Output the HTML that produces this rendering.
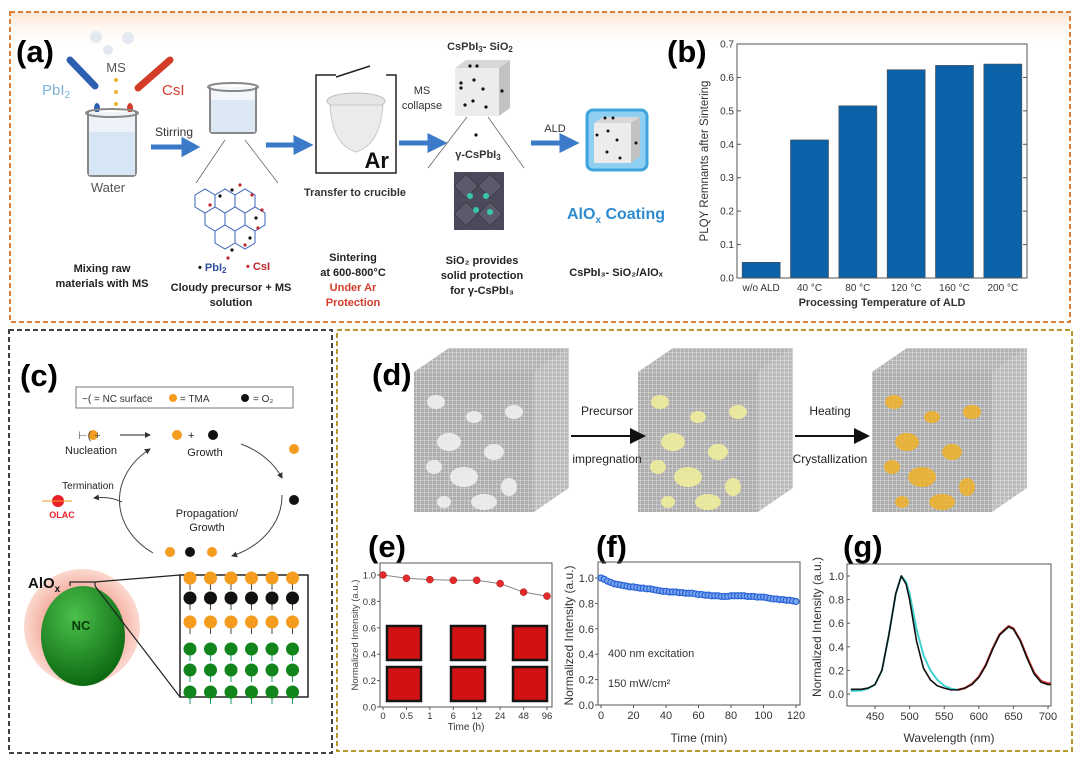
<!DOCTYPE html>
<html><head><meta charset="utf-8">
<style>
html,body{margin:0;padding:0;background:#fff;}
svg{display:block;font-family:"Liberation Sans",sans-serif;}
.b{font-weight:bold}
</style></head>
<body>
<svg id="fig" width="1080" height="762" viewBox="0 0 1080 762" xmlns="http://www.w3.org/2000/svg">
<defs>
  <linearGradient id="topglow" x1="0" y1="0" x2="0" y2="1">
    <stop offset="0" stop-color="#fbe6d4"/><stop offset="1" stop-color="#fff" stop-opacity="0"/>
  </linearGradient>
  <pattern id="grid" width="4" height="4" patternUnits="userSpaceOnUse">
    <rect width="4" height="4" fill="#a4a4a4"/>
    <path d="M0 0H4M0 0V4" stroke="#dcdcdc" stroke-width="1"/>
  </pattern>
  <radialGradient id="green" cx="0.4" cy="0.3" r="0.7">
    <stop offset="0" stop-color="#4cc04c"/><stop offset="1" stop-color="#0d6a12"/>
  </radialGradient>
  <radialGradient id="halo" cx="0.5" cy="0.5" r="0.5">
    <stop offset="0.6" stop-color="#f4a89a"/><stop offset="1" stop-color="#fbd9d0"/>
  </radialGradient>
  <marker id="ah" markerWidth="8" markerHeight="8" refX="6" refY="4" orient="auto"><path d="M0 0L8 4L0 8z" fill="#111"/></marker>
  <marker id="ahs" markerWidth="6" markerHeight="6" refX="5" refY="3" orient="auto"><path d="M0 0L6 3L0 6z" fill="#333"/></marker>
</defs>

<!-- panel frames -->
<rect x="10" y="12" width="1060" height="40" fill="url(#topglow)"/>
<rect x="10" y="12" width="1060" height="310" fill="none" stroke="#d9813a" stroke-width="2" stroke-dasharray="5,3"/>
<rect x="9" y="330" width="323" height="423" fill="none" stroke="#444" stroke-width="2" stroke-dasharray="5,3"/>
<rect x="337" y="330" width="735" height="421" fill="none" stroke="#b79a2e" stroke-width="2" stroke-dasharray="5,3"/>

<!-- ===== Panel (a) ===== -->
<g>
<text x="16" y="62" font-size="31" class="b">(a)</text>
<g fill="#e4e8f0"><circle cx="96" cy="37" r="6"/><circle cx="128" cy="38" r="6"/><circle cx="108" cy="50" r="5"/></g>
<text x="116" y="72" font-size="13" fill="#555" text-anchor="middle">MS</text>
<text x="42" y="95" font-size="15" fill="#7fb2d8">PbI<tspan font-size="10" dy="3">2</tspan></text>
<text x="162" y="95" font-size="15" fill="#d43c2a">CsI</text>
<path d="M70 60 L95 86" stroke="#2d5fb0" stroke-width="7" stroke-linecap="round"/>
<path d="M170 60 L138 88" stroke="#d43c2a" stroke-width="7" stroke-linecap="round"/>
<g fill="#f0b030"><circle cx="116" cy="80" r="2"/><circle cx="116" cy="92" r="2"/><circle cx="116" cy="104" r="2"/><circle cx="116" cy="118" r="2"/></g>
<g fill="#2d5fb0"><ellipse cx="97" cy="108" rx="3" ry="5"/><ellipse cx="97" cy="123" rx="3" ry="5"/></g>
<g fill="#d43c2a"><ellipse cx="130" cy="108" rx="3" ry="5"/><ellipse cx="130" cy="123" rx="3" ry="5"/></g>
<path d="M88 112 L88 172 Q88 176 92 176 L132 176 Q136 176 136 172 L136 112" fill="#eef3fa" stroke="#888" stroke-width="2"/>
<rect x="89" y="132" width="46" height="43" fill="#d6e6f5"/>
<ellipse cx="112" cy="113" rx="26" ry="4" fill="none" stroke="#888" stroke-width="2"/>
<text x="108" y="192" font-size="13" fill="#555" text-anchor="middle">Water</text>
<text x="174" y="136" font-size="12" fill="#333" text-anchor="middle">Stirring</text>
<path d="M151 147 H184 L184 141 L195 147 L184 153 L184 147" fill="#3b7ac8" stroke="#3b7ac8" stroke-width="5"/>
<path d="M210 87 L210 130 Q210 133 213 133 L253 133 Q256 133 256 130 L256 87" fill="#f3f6fa" stroke="#888" stroke-width="2"/>
<rect x="211" y="100" width="44" height="32" fill="#dce8f4"/>
<ellipse cx="233" cy="87" rx="25" ry="4" fill="none" stroke="#888" stroke-width="2"/>
<path d="M225 140 L196 183 M245 140 L278 183" stroke="#666" stroke-width="0.8"/>
<g stroke="#3a63b8" stroke-width="1" fill="none">
 <path d="M195 195 l10 -6 l10 6 l0 12 l-10 6 l-10 -6z M215 195 l10 -6 l10 6 l0 12 l-10 6 l-10 -6z M235 195 l10 -6 l10 6 l0 12 l-10 6 l-10 -6z M205 213 l10 -6 l10 6 l0 12 l-10 6 l-10 -6z M225 213 l10 -6 l10 6 l0 12 l-10 6 l-10 -6z M245 213 l10 -6 l10 6 l0 12 l-10 6 l-10 -6z M215 231 l10 -6 l10 6 l0 12 l-10 6 l-10 -6z M235 231 l10 -6 l10 6 l0 12 l-10 6 l-10 -6z"/>
</g>
<g fill="#c0272d"><circle cx="240" cy="185" r="1.6"/><circle cx="252" cy="195" r="1.6"/><circle cx="262" cy="210" r="1.6"/><circle cx="258" cy="228" r="1.6"/><circle cx="245" cy="245" r="1.6"/><circle cx="228" cy="258" r="1.6"/><circle cx="210" cy="205" r="1.6"/></g>
<g fill="#111"><circle cx="232" cy="190" r="1.6"/><circle cx="256" cy="218" r="1.6"/><circle cx="250" cy="238" r="1.6"/><circle cx="232" cy="250" r="1.6"/><circle cx="220" cy="196" r="1.6"/></g>
<path d="M266 145 H296 L296 139 L308 145 L296 151 L296 145" fill="#3b7ac8" stroke="#3b7ac8" stroke-width="5"/>
<path d="M336 75 L316 75 L316 173 L396 173 L396 75 L386 75" fill="none" stroke="#222" stroke-width="1.5"/>
<path d="M336 77 L370 66" stroke="#222" stroke-width="1.5"/>
<ellipse cx="356" cy="101" rx="29" ry="8" fill="#e6e6e6" stroke="#bbb"/>
<path d="M330 105 Q332 145 356 152 Q380 145 383 105z" fill="#ebebeb" stroke="#c8c8c8"/>
<text x="389" y="168" font-size="22" class="b" text-anchor="end" fill="#111">Ar</text>
<text x="355" y="196" font-size="11" class="b" text-anchor="middle" fill="#333">Transfer to crucible</text>
<text x="422" y="94" font-size="11" text-anchor="middle" fill="#333"><tspan x="422">MS</tspan><tspan x="422" dy="15">collapse</tspan></text>
<path d="M399 143 H430 L430 137 L442 143 L430 149 L430 143" fill="#3b7ac8" stroke="#3b7ac8" stroke-width="5"/>
<text x="480" y="50" font-size="11" class="b" text-anchor="middle" fill="#333">CsPbI<tspan font-size="8" dy="2">3</tspan><tspan dy="-2">- SiO</tspan><tspan font-size="8" dy="2">2</tspan></text>
<g>
<path d="M455 68 L466 60 L510 60 L499 68z" fill="#d8d8d8"/><path d="M499 68 L510 60 L510 108 L499 116z" fill="#c2c2c2"/><rect x="455" y="68" width="44" height="48" fill="#ececec"/>
<g fill="#111"><circle cx="470" cy="66" r="1.6"/><circle cx="477" cy="66" r="1.6"/><circle cx="474" cy="80" r="1.6"/><circle cx="461" cy="83" r="1.6"/><circle cx="461" cy="88" r="1.6"/><circle cx="483" cy="89" r="1.6"/><circle cx="502" cy="91" r="1.6"/><circle cx="473" cy="101" r="1.6"/><circle cx="486" cy="107" r="1.6"/><circle cx="465" cy="105" r="1.6"/><circle cx="476" cy="135" r="1.6"/></g>
</g>
<path d="M467 117 L428 168 M488 117 L524 168" stroke="#666" stroke-width="0.8"/>
<text x="478" y="158" font-size="11" class="b" text-anchor="middle" fill="#333">γ-CsPbI<tspan font-size="8" dy="2">3</tspan></text>
<g>
<rect x="454" y="172" width="50" height="58" fill="#4a4a5a"/>
<g fill="#5a5a6c" stroke="#333" stroke-width="0.6"><path d="M454 186 l12 -12 l12 12 l-12 12z M478 186 l12 -12 l12 12 l-12 12z M454 214 l12 -12 l12 12 l-12 12z M478 214 l12 -12 l12 12 l-12 12z"/></g>
<g fill="#38c6a8"><circle cx="470" cy="196" r="3"/><circle cx="486" cy="196" r="3"/><circle cx="476" cy="210" r="3"/><circle cx="490" cy="212" r="3"/></g>
</g>
<text x="555" y="132" font-size="11" fill="#333" text-anchor="middle">ALD</text>
<path d="M531 143 H562 L562 137 L574 143 L562 149 L562 143" fill="#3b7ac8" stroke="#3b7ac8" stroke-width="5"/>
<g>
<rect x="587" y="110" width="60" height="60" rx="6" fill="#8fd0f2" stroke="#3fa4de" stroke-width="3"/>
<path d="M594 123 L603 117 L640 117 L631 123z" fill="#d8d8d8"/><path d="M631 123 L640 117 L640 156 L631 163z" fill="#c2c2c2"/><rect x="594" y="123" width="37" height="40" fill="#ececec"/>
<g fill="#111"><circle cx="605" cy="118" r="1.5"/><circle cx="613" cy="118" r="1.5"/><circle cx="608" cy="131" r="1.5"/><circle cx="597" cy="135" r="1.5"/><circle cx="617" cy="140" r="1.5"/><circle cx="636" cy="143" r="1.5"/><circle cx="607" cy="152" r="1.5"/><circle cx="620" cy="158" r="1.5"/></g>
</g>
<text x="616" y="219" font-size="16" class="b" text-anchor="middle" fill="#2f8bd0">AlO<tspan font-size="10" dy="4">x</tspan><tspan dy="-4"> Coating</tspan></text>
<text x="102" y="272" font-size="11" class="b" text-anchor="middle" fill="#222"><tspan x="102">Mixing raw</tspan><tspan x="102" dy="15">materials with MS</tspan></text>
<text x="198" y="271" font-size="11" class="b" fill="#111">• <tspan fill="#2d4fa0">PbI</tspan><tspan font-size="8" dy="2" fill="#2d4fa0">2</tspan></text>
<text x="246" y="270" font-size="11" class="b" fill="#c0272d">•  CsI</text>
<text x="231" y="291" font-size="11" class="b" text-anchor="middle" fill="#222"><tspan x="231">Cloudy precursor + MS</tspan><tspan x="231" dy="15">solution</tspan></text>
<text x="353" y="261" font-size="11" class="b" text-anchor="middle" fill="#222"><tspan x="353">Sintering</tspan><tspan x="353" dy="15">at 600-800°C</tspan><tspan x="353" dy="15" fill="#d43c2a">Under Ar</tspan><tspan x="353" dy="15" fill="#d43c2a">Protection</tspan></text>
<text x="482" y="264" font-size="11" class="b" text-anchor="middle" fill="#222"><tspan x="482">SiO₂ provides</tspan><tspan x="482" dy="15">solid protection</tspan><tspan x="482" dy="15">for γ-CsPbI₃</tspan></text>
<text x="616" y="276" font-size="11" class="b" text-anchor="middle" fill="#222">CsPbI₃- SiO₂/AlOₓ</text>
</g>

<!-- ===== Panel (b) ===== -->
<g id="chartB">
<text x="667" y="62" font-size="31" class="b">(b)</text>
</g>

<!-- ===== Panel (c) ===== -->
<g>
<text x="20" y="386" font-size="31" class="b">(c)</text>
<rect x="76" y="387" width="217" height="21" fill="#fff" stroke="#777"/>
<text x="82" y="402" font-size="10" fill="#333">−( = NC surface</text>
<circle cx="173" cy="398" r="4" fill="#f39c1e"/><text x="180" y="402" font-size="10" fill="#333">= TMA</text>
<circle cx="245" cy="398" r="4" fill="#111"/><text x="253" y="402" font-size="10" fill="#333">= O₂</text>
<g>
<circle cx="93" cy="435" r="5" fill="#f39c1e"/><circle cx="177" cy="435" r="5" fill="#f39c1e"/><circle cx="213" cy="435" r="5" fill="#111"/>
<text x="78" y="439" font-size="11" fill="#555">⊢(  +</text>
<line x1="120" y1="435" x2="150" y2="435" stroke="#222" marker-end="url(#ahs)"/>
<text x="188" y="439" font-size="11" fill="#222">+</text>
<text x="91" y="454" font-size="11" text-anchor="middle" fill="#222">Nucleation</text>
<text x="205" y="456" font-size="11" text-anchor="middle" fill="#222">Growth</text>
<path d="M241 444 A80 65 0 0 1 282 478" fill="none" stroke="#444" marker-end="url(#ahs)"/>
<path d="M282 495 A80 65 0 0 1 232 556" fill="none" stroke="#444" marker-end="url(#ahs)"/>
<path d="M153 553 A80 65 0 0 1 150 449" fill="none" stroke="#444" marker-end="url(#ahs)"/>
<path d="M122 502 Q110 496 94 498" fill="none" stroke="#444" marker-end="url(#ahs)"/>
<circle cx="294" cy="449" r="5" fill="#f39c1e"/><circle cx="294" cy="500" r="5" fill="#111"/>
<text x="88" y="489" font-size="10" text-anchor="middle" fill="#222">Termination</text>
<circle cx="58" cy="501" r="6" fill="#e8202a"/><line x1="42" y1="501" x2="72" y2="501" stroke="#f39c1e"/>
<text x="62" y="518" font-size="9" class="b" text-anchor="middle" fill="#e8202a">OLAC</text>
<text x="207" y="517" font-size="11" text-anchor="middle" fill="#222"><tspan x="207">Propagation/</tspan><tspan x="207" dy="14">Growth</tspan></text>
<circle cx="170" cy="552" r="5" fill="#f39c1e"/><circle cx="190" cy="552" r="5" fill="#111"/><circle cx="212" cy="552" r="5" fill="#f39c1e"/>
</g>
<ellipse cx="82" cy="627" rx="58" ry="58" fill="url(#halo)"/>
<ellipse cx="83" cy="636" rx="42" ry="50" fill="url(#green)"/>
<text x="81" y="630" font-size="13" class="b" text-anchor="middle" fill="#0a3a0a">NC</text>
<text x="28" y="588" font-size="15" class="b" fill="#111">AlO<tspan font-size="10" dy="4">x</tspan></text>
<path d="M70 586 L70 582 L95 582 L95 586 M95 582 L180 575 M95 586 L180 697" fill="none" stroke="#222" stroke-width="1.2"/>
<rect x="180" y="575" width="128" height="122" fill="#fff" stroke="#222" stroke-width="1.5"/>
<g id="insetRows"></g>
</g>

<!-- ===== Panel (d) ===== -->
<g>
<text x="372" y="385" font-size="31" class="b">(d)</text>
<g id="cubes"></g>
<text x="607" y="415" font-size="12" text-anchor="middle" fill="#222">Precursor</text>
<line x1="571" y1="436" x2="642" y2="436" stroke="#111" stroke-width="2" marker-end="url(#ah)"/>
<text x="607" y="463" font-size="12" text-anchor="middle" fill="#222">impregnation</text>
<text x="830" y="415" font-size="12" text-anchor="middle" fill="#222">Heating</text>
<line x1="795" y1="436" x2="866" y2="436" stroke="#111" stroke-width="2" marker-end="url(#ah)"/>
<text x="830" y="463" font-size="12" text-anchor="middle" fill="#222">Crystallization</text>
</g>

<!-- ===== Panels (e)(f)(g) ===== -->
<text x="368" y="557" font-size="31" class="b">(e)</text>
<text x="596" y="557" font-size="31" class="b">(f)</text>
<text x="843" y="557" font-size="31" class="b">(g)</text>
<g id="chartE"></g>
<g id="chartF"></g>
<g id="chartG"></g>
</svg>

<script>
// ---- chart (b) data ----
const bCategories = ["w/o ALD","40 °C","80 °C","120 °C","160 °C","200 °C"];
const bValues = [0.047,0.413,0.515,0.623,0.636,0.640];
const bTicks = [0,0.1,0.2,0.3,0.4,0.5,0.6,0.7];
// ---- chart (e) data ----
const eCategories = ["0","0.5","1","6","12","24","48","96"];
const eValues = [1.0,0.975,0.965,0.96,0.96,0.935,0.87,0.84];
const eTicks = [0,0.2,0.4,0.6,0.8,1.0];
// ---- chart (f) data ----
const fTimes = [0,2,4,6,8,10,12,14,16,18,20,22,24,26,28,30,32,34,36,38,40,42,44,46,48,50,52,54,56,58,60,62,64,66,68,70,72,74,76,78,80,82,84,86,88,90,92,94,96,98,100,102,104,106,108,110,112,114,116,118,120];
const fValues = [1.00,0.99,0.975,0.965,0.955,0.95,0.945,0.94,0.935,0.93,0.93,0.925,0.92,0.92,0.915,0.915,0.91,0.905,0.90,0.895,0.895,0.89,0.89,0.89,0.885,0.885,0.88,0.88,0.88,0.875,0.87,0.87,0.865,0.865,0.86,0.86,0.86,0.855,0.855,0.855,0.86,0.86,0.86,0.86,0.86,0.855,0.855,0.855,0.85,0.85,0.85,0.845,0.84,0.835,0.835,0.83,0.83,0.825,0.825,0.82,0.815];
const fXTicks = [0,20,40,60,80,100,120];
const fYTicks = [0,0.2,0.4,0.6,0.8,1.0];
// ---- chart (g) data ----
const gWl = [415,430,440,450,460,470,480,488,495,500,510,520,530,540,550,560,570,580,590,600,610,620,630,643,650,660,670,680,690,700,705];
const gBlack = [0.04,0.04,0.05,0.08,0.2,0.5,0.85,1.0,0.93,0.8,0.45,0.22,0.12,0.07,0.05,0.035,0.035,0.05,0.08,0.14,0.24,0.38,0.5,0.57,0.55,0.45,0.3,0.17,0.1,0.08,0.08];
const gCyanWl = [415,430,440,450,460,470,480,488,495,500,510,520,530,540,550,560,570];
const gCyan = [0.025,0.03,0.045,0.08,0.2,0.5,0.85,1.0,0.95,0.85,0.55,0.33,0.2,0.12,0.07,0.045,0.035];
const gRedWl = [570,580,590,600,610,620,630,643,650,660,670,680,690,700,705];
const gRed = [0.035,0.05,0.085,0.145,0.245,0.385,0.505,0.575,0.555,0.455,0.31,0.18,0.11,0.09,0.09];
const gXTicks = [450,500,550,600,650,700];
const gYTicks = [0,0.2,0.4,0.6,0.8,1.0];

const NS="http://www.w3.org/2000/svg";
function mk(parent, tag, attrs, text){
  const e=document.createElementNS(NS,tag);
  for(const k in attrs) e.setAttribute(k,attrs[k]);
  if(text!==undefined) e.textContent=text;
  parent.appendChild(e); return e;
}

// ===== chart B =====
(function(){
  const g=document.getElementById('chartB');
  const L=737,R=1027,T=44,B=278;
  const y=v=>B-(v/0.7)*(B-T);
  const step=(R-L)/bCategories.length;
  const x=i=>L+step*(i+0.5);
  bValues.forEach((v,i)=>{
    const r=mk(g,'rect',{x:x(i)-19,y:y(v),width:38,height:B-y(v),fill:'#0b62a8',stroke:'#4a4a4a','stroke-width':0.6});
    
    
    const t=mk(g,'text',{x:x(i),y:B+13,'font-size':10,'text-anchor':'middle',fill:'#333'},bCategories[i]);
    
    
  });
  const fr=mk(g,'rect',{x:L,y:T,width:R-L,height:B-T,fill:'none',stroke:'#555','stroke-width':1});
  
  
  bTicks.forEach(v=>{
    mk(g,'line',{x1:L,x2:L+4,y1:y(v),y2:y(v),stroke:'#555'});
    mk(g,'line',{x1:R,x2:R-4,y1:y(v),y2:y(v),stroke:'#555'});
    const t=mk(g,'text',{x:L-3,y:y(v)+3.5,'font-size':10,'text-anchor':'end',fill:'#333'},v.toFixed(1));
    
    
  });
  const yt=mk(g,'text',{x:0,y:0,'font-size':11.5,'text-anchor':'middle',fill:'#333',transform:`translate(708 ${(T+B)/2}) rotate(-90)`},'PLQY Remnants after Sintering');
  
  
  const xt=mk(g,'text',{x:(L+R)/2,y:306,'font-size':11,'text-anchor':'middle','font-weight':'bold',fill:'#333'},'Processing Temperature of ALD');
  
  
})();

// ===== chart E =====
(function(){
  const g=document.getElementById('chartE');
  const L=380,R=552,T=563,B=707;
  const y=v=>707-v*132;
  const x=i=>383+i*(547-383)/(eCategories.length-1);
  // insets
  [[387,626],[451,626],[513,626],[387,667],[451,667],[513,667]].forEach((p,i)=>{
    const r=mk(g,'rect',{x:p[0],y:p[1],width:34,height:34,fill:'#d01212',stroke:'#151515','stroke-width':2.5});
    
    
  });
  const fr=mk(g,'rect',{x:L,y:T,width:R-L,height:B-T,fill:'none',stroke:'#555'});
  
  
  const line=mk(g,'polyline',{points:eValues.map((v,i)=>x(i)+','+y(v)).join(' '),fill:'none',stroke:'#888','stroke-width':1});
  
  
  eValues.forEach((v,i)=>{
    const c=mk(g,'circle',{cx:x(i),cy:y(v),r:3.5,fill:'#e42b2b',stroke:'#a01010','stroke-width':0.5});
    
    
    mk(g,'line',{x1:x(i),x2:x(i),y1:B,y2:B+3,stroke:'#555'});
    const t=mk(g,'text',{x:x(i),y:B+12,'font-size':9.5,'text-anchor':'middle',fill:'#333'},eCategories[i]);
    
    
  });
  eTicks.forEach(v=>{
    mk(g,'line',{x1:L-3,x2:L,y1:y(v),y2:y(v),stroke:'#555'});
    const t=mk(g,'text',{x:L-4,y:y(v)+3.5,'font-size':9.5,'text-anchor':'end',fill:'#333'},v.toFixed(1));
    
    
  });
  const xt=mk(g,'text',{x:466,y:730,'font-size':10,'text-anchor':'middle',fill:'#333'},'Time (h)');
  
  
  const yt=mk(g,'text',{x:0,y:0,'font-size':9.5,'text-anchor':'middle',fill:'#444',transform:`translate(358 ${(T+B)/2}) rotate(-90)`},'Normalized Intensity (a.u.)');
  
  
})();

// ===== chart F =====
(function(){
  const g=document.getElementById('chartF');
  const L=598,R=800,T=562,B=705;
  const x=v=>601+v*(796-601)/120;
  const y=v=>705-v*127;
  const fr=mk(g,'rect',{x:L,y:T,width:R-L,height:B-T,fill:'none',stroke:'#555'});
  
  
  fValues.forEach((v,i)=>{
    const c=mk(g,'circle',{cx:x(fTimes[i]),cy:y(v),r:3,fill:'#7aa8ef',stroke:'#2a62d6','stroke-width':1.2});
    
    
  });
  fXTicks.forEach(v=>{
    mk(g,'line',{x1:x(v),x2:x(v),y1:B,y2:B+3,stroke:'#555'});
    const t=mk(g,'text',{x:x(v),y:B+14,'font-size':11,'text-anchor':'middle',fill:'#333'},v);
    
    
  });
  fYTicks.forEach(v=>{
    mk(g,'line',{x1:L-3,x2:L,y1:y(v),y2:y(v),stroke:'#555'});
    const t=mk(g,'text',{x:L-4,y:y(v)+4,'font-size':11,'text-anchor':'end',fill:'#333'},v.toFixed(1));
    
    
  });
  const a=mk(g,'text',{x:608,y:657,'font-size':11,fill:'#333'},'400 nm excitation');
  
  
  const b=mk(g,'text',{x:608,y:687,'font-size':11,fill:'#333'},'150 mW/cm²');
  
  
  const xt=mk(g,'text',{x:699,y:742,'font-size':12,'text-anchor':'middle',fill:'#333'},'Time (min)');
  
  
  const yt=mk(g,'text',{x:0,y:0,'font-size':12,'text-anchor':'middle',fill:'#333',transform:`translate(573 ${(T+B)/2+2}) rotate(-90)`},'Normalized Intensity (a.u.)');
  
  
})();

// ===== chart G =====
(function(){
  const g=document.getElementById('chartG');
  const L=847,R=1051,T=564,B=706;
  const x=v=>875+(v-450)*(1048-875)/250;
  const y=v=>694-v*118;
  const pts=(w,v)=>w.map((q,i)=>x(q)+','+y(v[i])).join(' ');
  const cy=mk(g,'polyline',{points:pts(gCyanWl,gCyan),fill:'none',stroke:'#3fd3cf','stroke-width':2,'stroke-linejoin':'round'});
  
  
  const rd=mk(g,'polyline',{points:pts(gRedWl,gRed),fill:'none',stroke:'#d8302a','stroke-width':2.2,'stroke-linejoin':'round'});
  
  
  const bk=mk(g,'polyline',{points:pts(gWl,gBlack),fill:'none',stroke:'#111','stroke-width':1.6,'stroke-linejoin':'round'});
  
  
  const fr=mk(g,'rect',{x:L,y:T,width:R-L,height:B-T,fill:'none',stroke:'#555'});
  
  
  gXTicks.forEach(v=>{
    mk(g,'line',{x1:x(v),x2:x(v),y1:B,y2:B+3,stroke:'#555'});
    const t=mk(g,'text',{x:x(v),y:B+14,'font-size':11,'text-anchor':'middle',fill:'#333'},v);
    
    
  });
  gYTicks.forEach(v=>{
    mk(g,'line',{x1:L,x2:L+3,y1:y(v),y2:y(v),stroke:'#555'});
    const t=mk(g,'text',{x:L-3,y:y(v)+4,'font-size':11,'text-anchor':'end',fill:'#333'},v.toFixed(1));
    
    
  });
  const xt=mk(g,'text',{x:949,y:742,'font-size':12,'text-anchor':'middle',fill:'#333'},'Wavelength (nm)');
  
  
  const yt=mk(g,'text',{x:0,y:0,'font-size':12,'text-anchor':'middle',fill:'#333',transform:`translate(821 ${(T+B)/2-8}) rotate(-90)`},'Normalized Intensity (a.u.)');
  
  
})();

// ===== panel d cubes =====
(function(){
  const g=document.getElementById('cubes');
  const cubes=[{x:414,blob:'#f2f2f2'},{x:638,blob:'#f2ef9a'},{x:872,blob:'#f0b028'}];
  const blobs=[[22,30,9,7],[60,45,8,6],[35,70,12,9],[80,80,10,8],[50,105,14,10],[100,40,9,7],[20,95,8,7],[95,115,8,9],[70,130,13,8],[30,130,7,6]];
  cubes.forEach((c,ci)=>{
    const cg=mk(g,'g',{});
    
    
    const X=c.x, Y=372, W=120, H=140, D=35;
    mk(cg,'path',{d:`M${X} ${Y} L${X+D} ${Y-24} L${X+W+D} ${Y-24} L${X+W} ${Y}z`,fill:'url(#grid)',opacity:0.85});
    mk(cg,'path',{d:`M${X+W} ${Y} L${X+W+D} ${Y-24} L${X+W+D} ${Y+H-24} L${X+W} ${Y+H}z`,fill:'url(#grid)',opacity:0.75});
    mk(cg,'rect',{x:X,y:Y,width:W,height:H,fill:'url(#grid)',opacity:0.9});
    blobs.forEach(b=>{
      mk(cg,'ellipse',{cx:X+b[0],cy:Y+b[1],rx:b[2],ry:b[3],fill:c.blob,opacity:0.85});
    });
  });
})();

// ===== panel c inset rows =====
(function(){
  const g=document.getElementById('insetRows');
  const rows=[{y:578,c:'#f39c1e'},{y:598,c:'#111'},{y:622,c:'#f39c1e'},{y:649,c:'#11851c'},{y:670,c:'#11851c'},{y:692,c:'#11851c'}];
  rows.forEach(r=>{
    for(let i=0;i<6;i++){
      const cx=190+i*20.5;
      mk(g,'line',{x1:cx,x2:cx,y1:r.y,y2:r.y+12,stroke:r.c==='#11851c'?'#1a9a6a':'#444','stroke-width':1});
      mk(g,'circle',{cx:cx,cy:r.y,r:6.5,fill:r.c});
    }
  });
})();
</script>
</body></html>
